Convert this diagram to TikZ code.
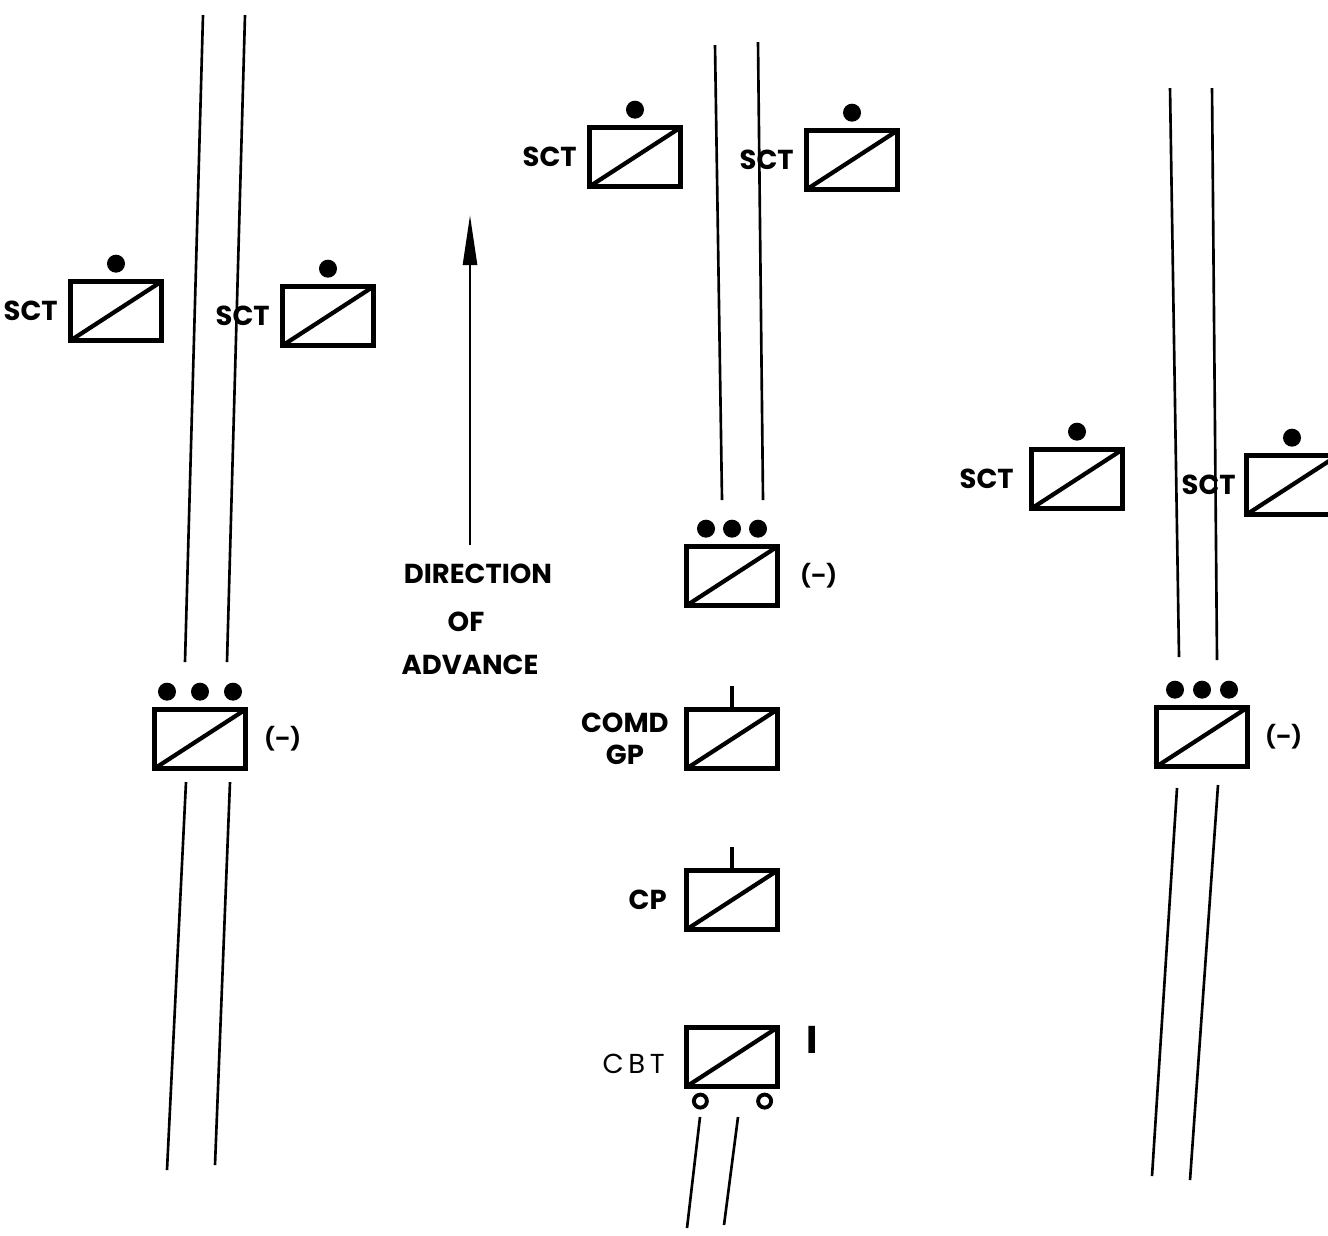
\documentclass[tikz,border=0pt]{standalone}
\usepackage{fontspec}
\setmainfont{Poppins}
\usetikzlibrary{positioning,arrows.meta}
\tikzset{
  unit/.style={draw, line width=1.2pt, minimum width=0.91cm, minimum height=0.59cm, inner sep=0pt,
    path picture={\draw[line width=1.2pt] (path picture bounding box.south west) -- (path picture bounding box.north east);}},
  dot/.style={circle, fill, inner sep=0pt, minimum size=0.18cm},
  wheel/.style={circle, draw, line width=1.1pt, inner sep=0pt, minimum size=0.13cm},
  road/.style={line width=0.75pt},
  lbl/.style={font=\fontsize{7.8}{9}\selectfont\bfseries, inner sep=0pt},
  minus/.style={font=\fontsize{6.3}{8}\selectfont\bfseries, inner sep=0pt}
}

\begin{document}
\begin{tikzpicture}[x=0.01cm, y=-0.01cm]
  \useasboundingbox (0,0) rectangle (1328,1235);
  \clip (0,0) rectangle (1328,1235);

  % roads
  \draw[road] (203,15) -- (185,662) (245,15) -- (227,662);
  \draw[road] (186,782) -- (167,1170) (230,782) -- (215,1165);
  \draw[road] (715,45) -- (722,500) (758,42) -- (763,500);
  \draw[road] (700,1117) -- (687,1228) (738,1117) -- (724,1225);
  \draw[road] (1170,88) -- (1179,657) (1212,88) -- (1217,660);
  \draw[road] (1177,788) -- (1152,1176) (1218,785) -- (1190,1180);

  % units
  \node[unit] (sctA) at (116,311) {};
  \node[unit] (sctB) at (328,316) {};
  \node[unit] (plA)  at (200,739) {};
  \node[unit] (sctC) at (635,157) {};
  \node[unit] (sctD) at (852,160) {};
  \node[unit] (plB)  at (732,576) {};
  \node[unit] (comd) at (732,739) {};
  \node[unit] (cp)   at (732,900) {};
  \node[unit] (cbt)  at (732,1057) {};
  \node[unit] (sctE) at (1077,479) {};
  \node[unit] (sctF) at (1292,485) {};
  \node[unit] (plC)  at (1202,737) {};

  \foreach \u in {sctA,sctB,sctC,sctD,sctE,sctF}
    \node[dot] (\u-d) [above=0.06cm of \u] {};
  \foreach \u/\s in {plA/33, plB/26, plC/27}
    \foreach \i/\f in {1/-1, 2/0, 3/1} {
      \pgfmathsetmacro{\dx}{\f*\s*0.01}
      \node[dot] (\u-\i) [above=0.06cm of \u, xshift=\dx cm] {};
    }

  % labels
  \node[lbl, left=0.1cm of sctA]  (sctA-l) {SCT};
  \node[lbl, left=0.1cm of sctB]  (sctB-l) {SCT};
  \node[lbl, left=0.1cm of sctC]  (sctC-l) {SCT};
  \node[lbl, left=0.1cm of sctD]  (sctD-l) {SCT};
  \node[lbl, left=0.15cm of sctE] (sctE-l) {SCT};
  \node[lbl, left=0.08cm of sctF] (sctF-l) {SCT};
  \node[minus, right=0.16cm of plA] (plA-l) {(--)};
  \node[minus, right=0.2cm of plB]  (plB-l) {(--)};
  \node[minus, right=0.15cm of plC] (plC-l) {(--)};
  \node[lbl, align=center, left=0.15cm of comd] (comd-l) {COMD\\GP};
  \node[lbl, left=0.17cm of cp] (cp-l) {CP};
  \node[lbl, font=\fontsize{7.8}{9}\selectfont, left=0.19cm of cbt, yshift=-0.07cm] (cbt-l) {C\,B\,T};
  \node[lbl, font=\fontsize{11}{12}\selectfont\bfseries, right=0.26cm of cbt.north east, anchor=north west] (cbt-i) {I};

  % headquarters staffs and wheels
  \draw[line width=1pt] (comd.north) -- ++(0,-21);
  \draw[line width=1pt] (cp.north) -- ++(0,-21);
  \node[wheel] (cbt-w1) [below=0.04cm of cbt.south west, xshift=0.16cm] {};
  \node[wheel] (cbt-w2) [below=0.04cm of cbt.south east, xshift=-0.15cm] {};

  % direction of advance
  \coordinate (arrS) at (470,545);
  \coordinate (arrN) at (470,215);
  \draw[line width=0.75pt, -{Triangle[length=0.5cm, width=0.14cm]}] (arrS) -- (arrN);
  \node[lbl] (dir) at (478,574) {DIRECTION};
  \node[lbl] (of)  at (466,622) {OF};
  \node[lbl] (adv) at (470,665) {ADVANCE};
\end{tikzpicture}
\end{document}
